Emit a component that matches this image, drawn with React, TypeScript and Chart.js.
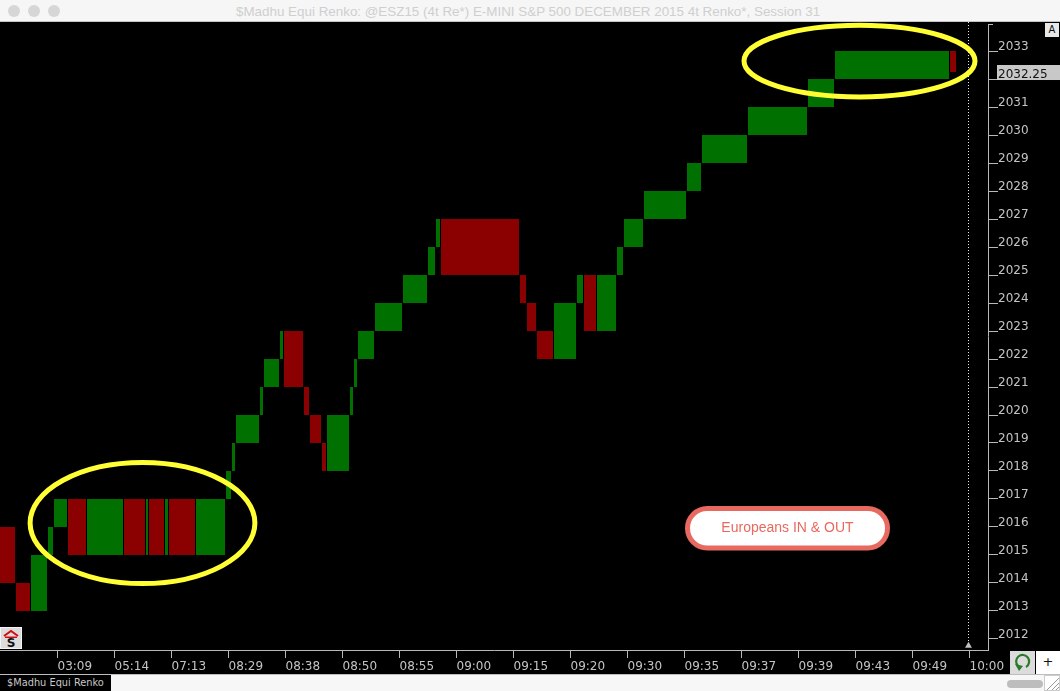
import React, { useEffect, useRef } from "react";
import { Chart, registerables } from "chart.js";

Chart.register(...registerables);

const titleText = "$Madhu Equi Renko: @ESZ15 (4t Re*) E-MINI S&P 500 DECEMBER 2015 4t Renko*, Session 31";
const tabText = "$Madhu Equi Renko";
const noteText = "Europeans IN & OUT";

const boxLeft = [0, 16, 31, 48, 54, 68, 87, 124, 146, 149, 165, 169, 196, 226, 232, 236, 260, 264, 280, 284, 304, 310, 322, 327, 350, 354, 358, 375, 403, 428, 436, 441, 520, 527, 537, 554, 577, 584, 597, 617, 624, 644, 687, 702, 748, 808, 835, 950];
const boxRight = [15, 30, 47, 53, 67, 86, 123, 145, 148, 164, 168, 195, 225, 231, 235, 259, 263, 279, 283, 303, 309, 321, 326, 349, 353, 357, 374, 402, 427, 435, 440, 519, 526, 536, 553, 576, 583, 596, 616, 623, 643, 686, 701, 747, 807, 834, 949, 956];
const boxLow = [2014, 2013, 2013, 2015, 2016, 2015, 2015, 2015, 2015, 2015, 2015, 2015, 2015, 2017, 2018, 2019, 2020, 2021, 2022, 2021, 2020, 2019, 2018, 2018, 2020, 2021, 2022, 2023, 2024, 2025, 2026, 2025, 2024, 2023, 2022, 2022, 2024, 2023, 2023, 2025, 2026, 2027, 2028, 2029, 2030, 2031, 2032, 2032.25];
const boxHigh = [2016, 2014, 2015, 2016, 2017, 2017, 2017, 2017, 2017, 2017, 2017, 2017, 2017, 2018, 2019, 2020, 2021, 2022, 2023, 2023, 2021, 2020, 2019, 2020, 2021, 2022, 2023, 2024, 2025, 2026, 2027, 2027, 2025, 2024, 2023, 2024, 2025, 2025, 2025, 2026, 2027, 2028, 2029, 2030, 2031, 2032, 2033, 2033];
const boxKind = ["d", "d", "u", "u", "u", "d", "u", "d", "u", "d", "u", "d", "u", "u", "u", "u", "u", "u", "u", "d", "d", "d", "d", "u", "u", "u", "u", "u", "u", "u", "u", "d", "d", "d", "d", "u", "u", "d", "u", "u", "u", "u", "u", "u", "u", "u", "u", "d"];

const xTickValues = [57.5, 114.5, 171.5, 228.5, 285.5, 342.5, 399.5, 456.5, 513.5, 570.5, 627.5, 684.5, 741.5, 798.5, 855.5, 912.5, 969.5];
const xTickLabels = ["03:09", "05:14", "07:13", "08:29", "08:38", "08:50", "08:55", "09:00", "09:15", "09:20", "09:30", "09:35", "09:37", "09:39", "09:43", "09:49", "10:00"];
const yTickValues = [2012, 2013, 2014, 2015, 2016, 2017, 2018, 2019, 2020, 2021, 2022, 2023, 2024, 2025, 2026, 2027, 2028, 2029, 2030, 2031, 2032, 2033];

const lastPrice = 2032.25;
const cursorX = 968.5;
const xRange = [0, 988];
const yRange = [2011.607, 2034.036];

const ellipseCx = [142.5, 859.5];
const ellipseCy = [2016.14, 2032.64];
const ellipseRx = [112.4, 115.5];
const ellipseRy = [2.16, 1.28];

const noteX = [687.5, 887.5];
const noteY = [2015.25, 2016.66];

const UP = "rgb(0,112,0)";
const DOWN = "rgb(139,0,0)";
const AXIS = "#b8b8b8";
const TEXT = "#c4c4c4";

const overlay = {
  id: "overlay",
  afterDatasetsDraw(chart: any) {
    const { ctx, scales } = chart;
    const { x, y } = scales;
    ctx.save();
    ctx.strokeStyle = "#ffff33";
    ctx.lineWidth = 5;
    ellipseCx.forEach((cx, i) => {
      const px = x.getPixelForValue(cx);
      const py = y.getPixelForValue(ellipseCy[i]);
      const rx = x.getPixelForValue(cx + ellipseRx[i]) - px;
      const ry = py - y.getPixelForValue(ellipseCy[i] + ellipseRy[i]);
      ctx.beginPath();
      ctx.ellipse(px, py, rx, ry, 0, 0, Math.PI * 2);
      ctx.stroke();
    });
    const l = x.getPixelForValue(noteX[0]);
    const r = x.getPixelForValue(noteX[1]);
    const t = y.getPixelForValue(noteY[1]);
    const b = y.getPixelForValue(noteY[0]);
    ctx.beginPath();
    ctx.roundRect(l, t, r - l, b - t, (b - t) / 2);
    ctx.fillStyle = "#ffffff";
    ctx.fill();
    ctx.strokeStyle = "#e8695f";
    ctx.lineWidth = 5;
    ctx.stroke();
    ctx.fillStyle = "#e8695f";
    ctx.font = '14px "Liberation Sans"';
    ctx.textAlign = "center";
    ctx.textBaseline = "middle";
    ctx.fillText(noteText, (l + r) / 2, (t + b) / 2);
    ctx.restore();
  },
  afterDraw(chart: any) {
    const { ctx, scales } = chart;
    const py = scales.y.getPixelForValue(lastPrice - 0.25);
    ctx.save();
    ctx.fillStyle = "#c8c8c8";
    ctx.fillRect(997, py - 14, 63, 15);
    ctx.fillStyle = "#111";
    ctx.font = '12px "DejaVu Sans"';
    ctx.textAlign = "left";
    ctx.textBaseline = "alphabetic";
    ctx.fillText(lastPrice.toFixed(2), 998, py - 1);
    ctx.restore();
  },
};

export default function App() {
  const ref = useRef<HTMLCanvasElement>(null);

  useEffect(() => {
    document.body.style.margin = "0";
    document.body.style.background = "#000";
    const boxes = boxLeft.map((left, i) => ({
      type: "line" as const,
      data: [
        { x: left, y: boxHigh[i] },
        { x: boxRight[i], y: boxHigh[i] },
      ],
      fill: { value: boxLow[i] },
      backgroundColor: boxKind[i] === "u" ? UP : DOWN,
      borderWidth: 0,
      pointRadius: 0,
    }));
    const chart = new Chart(ref.current!, {
      type: "line",
      data: {
        datasets: [
          ...boxes,
          {
            type: "line" as const,
            data: [
              { x: cursorX, y: yRange[1] },
              { x: cursorX, y: yRange[0] + 0.15 },
            ],
            borderColor: "#e8e8e8",
            borderWidth: 1,
            borderDash: [1, 2],
            fill: false,
            pointStyle: "triangle",
            pointRadius: [0, 4],
            pointBackgroundColor: "#c0c0c0",
            pointBorderWidth: 0,
          },
        ] as any,
      },
      options: {
        animation: false,
        responsive: false,
        devicePixelRatio: 1,
        layout: { padding: 0, autoPadding: false },
        plugins: { legend: { display: false }, title: { display: false }, tooltip: { enabled: false } },
        scales: {
          x: {
            type: "linear",
            min: xRange[0],
            max: xRange[1],
            afterBuildTicks: (s: any) => {
              s.ticks = xTickValues.map((value) => ({ value }));
            },
            afterFit: (s: any) => {
              s.height = 24;
              s.paddingLeft = 0;
              s.paddingRight = 0;
            },
            grid: { display: true, drawOnChartArea: false, drawTicks: true, tickLength: 8, color: AXIS },
            border: { display: true, color: AXIS },
            ticks: {
              autoSkip: false,
              maxRotation: 0,
              align: "start",
              padding: 2,
              color: TEXT,
              font: { family: "DejaVu Sans", size: 12 },
              callback: (v: any) => xTickLabels[xTickValues.indexOf(Number(v))] ?? "",
            },
          },
          y: {
            type: "linear",
            position: "right",
            min: yRange[0],
            max: yRange[1],
            afterBuildTicks: (s: any) => {
              s.ticks = yTickValues.map((value) => ({ value }));
            },
            afterFit: (s: any) => {
              s.width = 72;
              s.paddingTop = 0;
              s.paddingBottom = 0;
            },
            grid: { display: true, drawOnChartArea: false, drawTicks: true, tickLength: 10, color: AXIS },
            border: { display: true, color: AXIS },
            ticks: {
              autoSkip: false,
              labelOffset: -4,
              padding: 0,
              color: TEXT,
              font: { family: "DejaVu Sans", size: 12 },
              callback: (v: any) => String(v),
            },
          },
        },
      },
      plugins: [overlay],
    } as any);
    return () => chart.destroy();
  }, []);

  const abs = (left: number, top: number, width: number, height: number, extra: any = {}) => ({
    position: "absolute" as const,
    left,
    top,
    width,
    height,
    boxSizing: "border-box" as const,
    ...extra,
  });

  return (
    <div style={{ position: "relative", width: 1060, height: 691, background: "#000", overflow: "hidden" }}>
      <canvas ref={ref} width={1060} height={652} style={{ position: "absolute", left: 0, top: 22, display: "block" }} />

      <div style={abs(0, 0, 1060, 22, { background: "#f6f6f6", borderBottom: "1px solid #c4c4c4" })} />
      {[14, 34, 54].map((cx) => (
        <div key={cx} style={abs(cx - 6, 5, 12, 12, { borderRadius: "50%", background: "#d6d6d6" })} />
      ))}
      <div
        style={abs(236, 3, 620, 17, {
          font: '13.4px/17px "Liberation Sans"',
          color: "#cfcfcf",
          whiteSpace: "nowrap",
        })}
      >
        {titleText}
      </div>

      <div style={abs(1045, 23, 14, 14, {
        background: "#e8e8e8",
        color: "#111",
        font: '10px/14px "DejaVu Sans"',
        textAlign: "center",
      })}>A</div>
      <div style={abs(988, 22, 1, 2, { background: "#000" })} />
      <div style={abs(988, 24, 5, 1, { background: AXIS })} />

      <div style={abs(0, 627, 22, 22, { background: "#dcdcdc", border: "1px solid #f4f4f4" })}>
        <svg width="20" height="20" style={{ display: "block" }}>
          <polyline points="3,8 10,3 17,8" fill="none" stroke="#d01010" strokeWidth="2" />
          <rect x="4" y="8.5" width="12" height="1.5" fill="#d01010" />
          <text x="10" y="19" textAnchor="middle" fontSize="12" fontWeight="bold" fontFamily="DejaVu Sans" fill="#111">S</text>
        </svg>
      </div>

      <div style={abs(0, 674, 1060, 17, { background: "#f7f7f7", borderTop: "1px solid #bdbdbd" })} />
      <div style={abs(0, 675, 111, 16, {
        background: "#000",
        color: "#c8c8c8",
        font: '9.8px/16px "DejaVu Sans"',
        paddingLeft: 7,
        whiteSpace: "nowrap",
      })}>{tabText}</div>

      <div style={abs(1010, 651, 25, 23, { background: "#dcdcdc" })}>
        <svg width="25" height="23" style={{ display: "block" }}>
          <path d="M8 15 A6.5 6.5 0 1 1 16 16" fill="none" stroke="#2a7a2a" strokeWidth="2.2" />
          <polygon points="5,13 13,15 9,20" fill="#2a7a2a" />
        </svg>
      </div>
      <div style={abs(1036, 651, 24, 23, {
        background: "#fff",
        color: "#111",
        font: '13px/22px "DejaVu Sans"',
        textAlign: "center",
      })}>+</div>
      <div style={abs(1007, 680, 36, 8, { background: "#bdbdbd", borderRadius: 4 })} />
      <div style={abs(1044, 675, 16, 16, { background: "#fff", border: "1px solid #ccc" })}>
        <svg width="14" height="14" style={{ display: "block" }}>
          <path d="M2 14 L14 2 M7 14 L14 7 M11 14 L14 11" stroke="#999" strokeWidth="1" />
        </svg>
      </div>
    </div>
  );
}
